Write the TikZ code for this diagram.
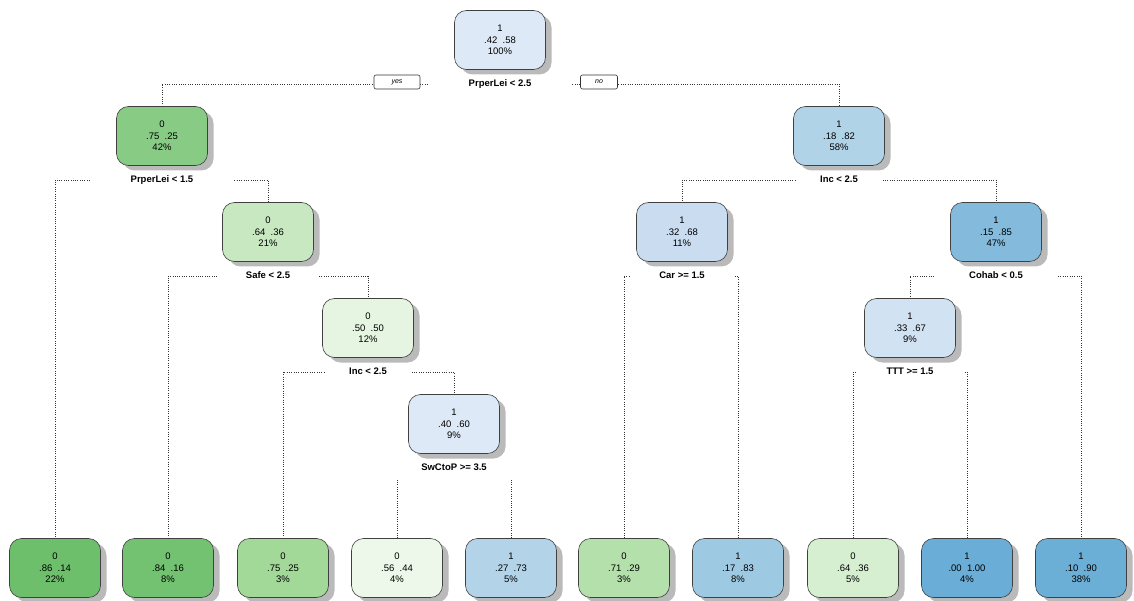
\documentclass[tikz,border=0pt]{standalone}
\usepackage{fontspec}
\setmainfont{Liberation Sans}
\usepackage{tikz}
\usetikzlibrary{positioning, calc, shadows}

\definecolor{cN1}{HTML}{DDE9F6}
\definecolor{cN2}{HTML}{88CB85}
\definecolor{cN3}{HTML}{B1D3E8}
\definecolor{cN4}{HTML}{6EBF6C}
\definecolor{cN5}{HTML}{C7E8C0}
\definecolor{cN10}{HTML}{72C271}
\definecolor{cN11}{HTML}{E6F5E1}
\definecolor{cN22}{HTML}{A2D898}
\definecolor{cN23}{HTML}{DDE9F6}
\definecolor{cN46}{HTML}{EEF8EA}
\definecolor{cN47}{HTML}{B3D3E9}
\definecolor{cN6}{HTML}{C9DCF0}
\definecolor{cN7}{HTML}{84BADB}
\definecolor{cN12}{HTML}{B4E0AC}
\definecolor{cN13}{HTML}{9DC9E2}
\definecolor{cN14}{HTML}{D1E2F3}
\definecolor{cN28}{HTML}{D6EFD0}
\definecolor{cN29}{HTML}{6AADD6}
\definecolor{cN15}{HTML}{6BAED6}

\begin{document}
\begin{tikzpicture}[x=1pt, y=-1pt,
	tnode/.style={rectangle, rounded corners=12pt, draw=black!75, line width=0.6pt, minimum width=91pt, minimum height=59pt, align=center, font=\fontsize{9.5}{11.5}\selectfont, drop shadow={shadow xshift=6pt, shadow yshift=-5pt, fill=black!45, opacity=0.6}},
	splitlab/.style={below=6pt of #1, inner xsep=0pt, text height=7pt, text depth=2pt, font=\bfseries\fontsize{9.5}{11}\selectfont},
	yesno/.style={rectangle, rounded corners=2pt, draw=black!80, line width=0.6pt, fill=white, minimum height=14pt, inner ysep=0pt, font=\itshape\fontsize{7}{8}\selectfont},
	branch/.style={draw=black!80, line width=0.6pt, dash pattern=on 0.6pt off 1.7pt}]
		
		\useasboundingbox (0,0) rectangle (1134,601);
		
		% inner nodes
		\node[tnode, fill=cN1] (N1) at (500,40) {1\\.42\ \ .58\\100\%};
		\node[tnode, fill=cN2] (N2) at (162,136) {0\\.75\ \ .25\\42\%};
		\node[tnode, fill=cN3] (N3) at (839,136) {1\\.18\ \ .82\\58\%};
		\node[tnode, fill=cN5] (N5) at (268,232) {0\\.64\ \ .36\\21\%};
		\node[tnode, fill=cN6] (N6) at (682,232) {1\\.32\ \ .68\\11\%};
		\node[tnode, fill=cN7] (N7) at (996,232) {1\\.15\ \ .85\\47\%};
		\node[tnode, fill=cN11] (N11) at (368,328) {0\\.50\ \ .50\\12\%};
		\node[tnode, fill=cN14] (N14) at (910,328) {1\\.33\ \ .67\\9\%};
		\node[tnode, fill=cN23] (N23) at (454,424) {1\\.40\ \ .60\\9\%};
		
		% leaves
		\node[tnode, fill=cN4] (N4) at (55,568) {0\\.86\ \ .14\\22\%};
		\node[tnode, fill=cN10] (N10) at (168,568) {0\\.84\ \ .16\\8\%};
		\node[tnode, fill=cN22] (N22) at (283,568) {0\\.75\ \ .25\\3\%};
		\node[tnode, fill=cN46] (N46) at (397,568) {0\\.56\ \ .44\\4\%};
		\node[tnode, fill=cN47] (N47) at (511,568) {1\\.27\ \ .73\\5\%};
		\node[tnode, fill=cN12] (N12) at (624,568) {0\\.71\ \ .29\\3\%};
		\node[tnode, fill=cN13] (N13) at (738,568) {1\\.17\ \ .83\\8\%};
		\node[tnode, fill=cN28] (N28) at (853,568) {0\\.64\ \ .36\\5\%};
		\node[tnode, fill=cN29] (N29) at (967,568) {1\\.00\ \ 1.00\\4\%};
		\node[tnode, fill=cN15] (N15) at (1081,568) {1\\.10\ \ .90\\38\%};
		
		% split rules
		\node[splitlab=N1] (S1) {PrperLei < 2.5};
		\node[splitlab=N2] (S2) {PrperLei < 1.5};
		\node[splitlab=N3] (S3) {Inc < 2.5};
		\node[splitlab=N5] (S5) {Safe < 2.5};
		\node[splitlab=N6] (S6) {Car >= 1.5};
		\node[splitlab=N7] (S7) {Cohab < 0.5};
		\node[splitlab=N11] (S11) {Inc < 2.5};
		\node[splitlab=N14] (S14) {TTT >= 1.5};
		\node[splitlab=N23] (S23) {SwCtoP >= 3.5};
		
		\draw[branch] ($(S1.west)!-0.65!(S1.east)$) -| (N2.north);
		\draw[branch] ($(S1.east)!-0.65!(S1.west)$) -| (N3.north);
		\draw[branch] ($(S2.west)!-0.65!(S2.east)$) -| (N4.north);
		\draw[branch] ($(S2.east)!-0.65!(S2.west)$) -| (N5.north);
		\draw[branch] ($(S5.west)!-0.65!(S5.east)$) -| (N10.north);
		\draw[branch] ($(S5.east)!-0.65!(S5.west)$) -| (N11.north);
		\draw[branch] ($(S11.west)!-0.65!(S11.east)$) -| (N22.north);
		\draw[branch] ($(S11.east)!-0.65!(S11.west)$) -| (N23.north);
		\draw[branch] ([yshift=-4pt]S23.south -| N46.north) -- (N46.north);
		\draw[branch] ([yshift=-4pt]S23.south -| N47.north) -- (N47.north);
		\draw[branch] ($(S3.west)!-0.65!(S3.east)$) -| (N6.north);
		\draw[branch] ($(S3.east)!-0.65!(S3.west)$) -| (N7.north);
		\draw[branch] ($(S6.west)!-0.65!(S6.east)$) -| (N12.north);
		\draw[branch] ($(S6.east)!-0.65!(S6.west)$) -| (N13.north);
		\draw[branch] ($(S7.west)!-0.65!(S7.east)$) -| (N14.north);
		\draw[branch] ($(S7.east)!-0.65!(S7.west)$) -| (N15.north);
		\draw[branch] ($(S14.west)!-0.65!(S14.east)$) -| (N28.north);
		\draw[branch] ($(S14.east)!-0.65!(S14.west)$) -| (N29.north);
		
		\node[yesno, minimum width=46pt] (YES) at (397,82) {yes};
		\node[yesno, minimum width=37pt] (NO) at (599,82) {no};
	\end{tikzpicture}
\end{document}
